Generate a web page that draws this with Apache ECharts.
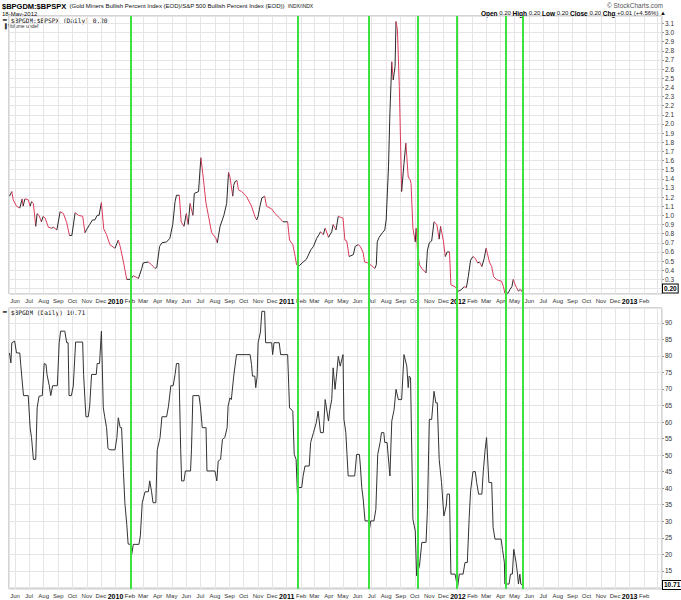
<!DOCTYPE html>
<html><head><meta charset="utf-8">
<script src="https://cdn.jsdelivr.net/npm/echarts@6/dist/echarts.min.js"></script>
<style>html,body{margin:0;padding:0;background:#fff}#c{width:681px;height:600px}</style>
</head><body><div id="c"></div>
<script>
// ---- data ----
const monthNames = ['Jan','Feb','Mar','Apr','May','Jun','Jul','Aug','Sep','Oct','Nov','Dec'];

const ratioDates = ['2009-05-20','2009-05-25','2009-05-28','2009-06-04','2009-06-11','2009-06-16','2009-06-18','2009-06-22','2009-06-29','2009-07-03','2009-07-06','2009-07-10','2009-07-15','2009-07-18','2009-07-22','2009-07-27','2009-07-31','2009-08-04','2009-08-11','2009-08-18','2009-08-22','2009-08-29','2009-09-05','2009-09-12','2009-09-19','2009-09-25','2009-09-30','2009-10-07','2009-10-14','2009-10-23','2009-10-28','2009-11-01','2009-11-07','2009-11-13','2009-11-18','2009-11-23','2009-11-27','2009-12-02','2009-12-07','2009-12-13','2009-12-20','2009-12-31','2010-01-07','2010-01-11','2010-01-18','2010-01-25','2010-02-02','2010-02-08','2010-02-19','2010-02-26','2010-03-01','2010-03-12','2010-03-19','2010-03-26','2010-03-30','2010-04-05','2010-04-10','2010-04-20','2010-04-27','2010-05-03','2010-05-08','2010-05-11','2010-05-17','2010-05-21','2010-05-27','2010-06-01','2010-06-05','2010-06-09','2010-06-15','2010-06-18','2010-06-27','2010-07-02','2010-07-06','2010-07-13','2010-07-18','2010-07-25','2010-08-03','2010-08-06','2010-08-12','2010-08-20','2010-08-26','2010-08-30','2010-09-02','2010-09-08','2010-09-10','2010-09-13','2010-09-17','2010-09-20','2010-09-27','2010-10-07','2010-10-18','2010-10-25','2010-10-29','2010-11-01','2010-11-05','2010-11-09','2010-11-15','2010-11-19','2010-11-30','2010-12-07','2010-12-17','2010-12-24','2011-01-03','2011-01-07','2011-01-14','2011-01-19','2011-01-22','2011-01-28','2011-02-05','2011-02-12','2011-02-21','2011-02-27','2011-03-06','2011-03-11','2011-03-14','2011-03-20','2011-03-24','2011-03-27','2011-03-31','2011-04-07','2011-04-10','2011-04-16','2011-04-21','2011-04-25','2011-05-01','2011-05-05','2011-05-09','2011-05-14','2011-05-23','2011-05-27','2011-06-02','2011-06-07','2011-06-13','2011-06-16','2011-06-23','2011-07-01','2011-07-08','2011-07-11','2011-07-13','2011-07-17','2011-07-24','2011-07-29','2011-08-01','2011-08-06','2011-08-09','2011-08-13','2011-08-16','2011-08-20','2011-08-22','2011-08-25','2011-08-29','2011-09-03','2011-09-08','2011-09-12','2011-09-17','2011-09-21','2011-09-23','2011-09-27','2011-10-02','2011-10-04','2011-10-07','2011-10-11','2011-10-16','2011-10-25','2011-10-28','2011-11-01','2011-11-06','2011-11-11','2011-11-17','2011-11-22','2011-11-25','2011-12-01','2011-12-05','2011-12-09','2011-12-14','2011-12-17','2011-12-26','2012-01-02','2012-01-09','2012-01-14','2012-01-19','2012-01-23','2012-01-28','2012-02-02','2012-02-07','2012-02-12','2012-02-16','2012-02-21','2012-02-26','2012-03-01','2012-03-04','2012-03-08','2012-03-13','2012-03-17','2012-03-23','2012-03-27','2012-04-03','2012-04-07','2012-04-10','2012-04-17','2012-04-21','2012-04-25','2012-04-28','2012-05-02','2012-05-05','2012-05-09','2012-05-12','2012-05-16','2012-05-18'];
const ratioValues = [1.21,1.26,1.17,1.10,1.08,1.18,1.10,1.18,1.17,1.10,1.15,1.13,0.88,1.02,1.00,0.93,0.99,0.97,0.87,0.86,0.87,0.84,1.04,1.02,0.92,0.78,0.78,1.03,1.00,0.99,0.81,0.85,0.90,0.95,0.95,1.00,1.00,1.14,0.85,0.79,0.68,0.64,0.73,0.66,0.49,0.30,0.30,0.34,0.31,0.42,0.48,0.49,0.46,0.42,0.43,0.66,0.70,0.71,0.75,0.90,1.15,1.22,1.22,0.93,0.88,1.02,0.90,1.13,1.00,1.24,1.26,1.63,1.46,1.13,1.00,0.81,0.75,0.70,0.88,1.00,1.13,1.47,1.42,1.21,1.33,1.37,1.38,1.28,1.26,1.21,1.10,0.99,0.95,0.99,1.10,1.19,1.21,1.10,1.07,1.02,0.97,0.93,0.93,0.73,0.68,0.55,0.46,0.45,0.49,0.52,0.62,0.66,0.75,0.79,0.82,0.79,0.86,0.82,0.76,0.82,0.90,0.84,0.99,0.98,0.97,0.73,0.72,0.55,0.57,0.66,0.68,0.66,0.59,0.49,0.48,0.45,0.42,0.46,0.71,0.76,0.81,0.84,0.95,1.53,2.12,2.68,2.48,2.63,3.12,3.03,2.41,1.26,1.57,1.79,1.42,1.39,1.35,0.86,0.71,0.86,0.60,0.46,0.42,0.37,0.62,0.70,0.72,0.93,0.90,0.74,0.88,0.72,0.55,0.60,0.60,0.24,0.22,0.17,0.19,0.22,0.21,0.33,0.51,0.55,0.53,0.48,0.49,0.44,0.53,0.64,0.58,0.49,0.44,0.33,0.30,0.29,0.28,0.22,0.15,0.15,0.19,0.22,0.30,0.24,0.21,0.17,0.19,0.17,0.20];

const gdmDates = ['2009-05-20','2009-05-23','2009-05-25','2009-05-31','2009-06-04','2009-06-11','2009-06-13','2009-06-17','2009-06-19','2009-06-29','2009-07-03','2009-07-06','2009-07-10','2009-07-15','2009-07-18','2009-07-22','2009-07-29','2009-08-02','2009-08-06','2009-08-08','2009-08-13','2009-08-16','2009-08-20','2009-08-30','2009-09-03','2009-09-06','2009-09-15','2009-09-19','2009-09-22','2009-09-24','2009-09-29','2009-10-03','2009-10-08','2009-10-23','2009-10-25','2009-10-30','2009-11-04','2009-11-07','2009-11-11','2009-11-21','2009-11-23','2009-11-28','2009-12-02','2009-12-06','2009-12-09','2009-12-13','2009-12-16','2009-12-20','2009-12-31','2010-01-04','2010-01-07','2010-01-11','2010-01-14','2010-01-18','2010-01-21','2010-01-25','2010-01-28','2010-02-02','2010-02-04','2010-02-08','2010-02-20','2010-02-23','2010-02-27','2010-03-05','2010-03-12','2010-03-15','2010-03-19','2010-03-22','2010-03-28','2010-03-31','2010-04-06','2010-04-10','2010-04-20','2010-04-24','2010-04-29','2010-05-04','2010-05-08','2010-05-11','2010-05-16','2010-05-20','2010-05-22','2010-05-27','2010-05-30','2010-06-10','2010-06-12','2010-06-15','2010-06-28','2010-07-01','2010-07-05','2010-07-13','2010-07-15','2010-08-01','2010-08-05','2010-08-08','2010-08-13','2010-08-17','2010-08-22','2010-08-27','2010-08-29','2010-09-02','2010-09-05','2010-09-10','2010-09-16','2010-10-15','2010-10-18','2010-10-20','2010-10-25','2010-10-27','2010-10-30','2010-11-01','2010-11-06','2010-11-09','2010-11-15','2010-11-17','2010-11-30','2010-12-02','2010-12-05','2010-12-16','2010-12-19','2011-01-03','2011-01-07','2011-01-14','2011-01-17','2011-01-21','2011-01-24','2011-01-26','2011-02-02','2011-02-05','2011-02-09','2011-02-18','2011-02-21','2011-02-27','2011-03-05','2011-03-09','2011-03-14','2011-03-20','2011-03-24','2011-03-31','2011-04-03','2011-04-07','2011-04-10','2011-04-14','2011-04-17','2011-04-21','2011-04-25','2011-05-01','2011-05-03','2011-05-07','2011-05-12','2011-05-26','2011-05-30','2011-06-05','2011-06-07','2011-06-10','2011-06-13','2011-06-17','2011-06-24','2011-06-26','2011-06-29','2011-07-06','2011-07-10','2011-07-14','2011-07-19','2011-07-22','2011-07-27','2011-07-29','2011-08-03','2011-08-09','2011-08-13','2011-08-18','2011-08-22','2011-08-27','2011-09-03','2011-09-08','2011-09-14','2011-09-17','2011-09-19','2011-09-22','2011-09-27','2011-10-02','2011-10-05','2011-10-11','2011-10-16','2011-10-25','2011-10-28','2011-11-01','2011-11-06','2011-11-11','2011-11-15','2011-11-18','2011-11-22','2011-11-27','2011-12-02','2011-12-07','2011-12-09','2011-12-14','2011-12-17','2011-12-26','2011-12-31','2012-01-04','2012-01-12','2012-01-16','2012-01-21','2012-01-25','2012-01-28','2012-02-02','2012-02-07','2012-02-10','2012-02-14','2012-02-21','2012-02-24','2012-02-28','2012-03-02','2012-03-07','2012-03-13','2012-03-16','2012-03-20','2012-04-02','2012-04-05','2012-04-09','2012-04-10','2012-04-19','2012-04-22','2012-04-26','2012-04-29','2012-05-04','2012-05-07','2012-05-09','2012-05-12','2012-05-14','2012-05-18'];
const gdmValues = [80.9,77.9,84,84.5,80.9,80.9,77.4,70.9,68,68,58.3,55.3,48.7,48.7,64.3,67.8,68,77.7,77.4,74.4,70.9,68,71,71,84,87.5,87.5,84,84,68,68,70.9,84.2,84.2,74.4,61.6,61.6,64.8,74.4,74.4,77.7,77.7,87.5,64.3,61.6,58.3,52,51.6,51.6,55.3,61.3,58.3,58.3,44.7,35.6,29.1,23.1,23,19.5,23,23,25.6,35.6,38.9,38.9,42.2,38.9,35.6,35.6,51.6,55.3,61.6,61.6,64.8,71,71,74.4,77.7,77.7,51.6,42.2,42.2,45.2,45.2,51.6,68,68,64.8,58.3,58.3,45.2,45.2,42.2,48.2,48.7,54.8,55.3,58.3,64.8,67.3,66.8,73.9,80.4,80.4,77.4,73.9,73.9,70.4,73.9,84,87.2,93.5,93.5,84,84,80.4,84,84,80.4,80.4,64.3,63.3,50.2,48.7,37.6,40.2,40.2,43.7,46.7,46.7,53.8,56.8,59.8,63.3,56.8,56.8,66.8,60.3,63.8,66.8,76.4,69.9,73.9,79.9,76.9,80.4,60.8,56.8,43.7,43.7,50.2,50.2,46.7,40.2,36.7,30.1,30.1,27.1,30.1,30.1,33.6,50.2,53.8,56.8,56.8,53.8,53.8,43.7,60.3,63.8,69.9,66.8,66.8,80.4,76.9,70.4,73.9,73.4,30.6,27.1,13.5,16.5,23.6,23.6,33.6,60.8,60.8,69.3,65.8,65.8,48.7,41.7,31.6,34.6,38.2,38.2,14,14,10,14,14,17.5,17.5,31.1,39.2,45,45,41.7,38.2,38.2,45,51.7,55.3,41.7,41.7,28.1,24.6,24.6,21.5,17.5,11,11,14,14,21.5,17.5,14,11,14,11,10.71];

const markerDates = ['2010-02-02','2011-01-24','2011-06-25','2011-10-07','2011-12-30','2012-04-12','2012-05-18'];
const ratioLast = 0.20;
const gdmLast = 10.71;
const lastMonthLabel = '2013-02-01';

// ---- chart ----
const DAY = 86400000;
const ts = s => { const p = s.split('-').map(Number); return new Date(p[0], p[1]-1, p[2]).getTime(); };
const X_MIN = ts('2009-05-19'), X_MAX = ts('2013-03-11');
const UP = '#2a2a2a', DOWN = '#dc3c5a', GRIDC = '#e6e4e6';
const FF = 'Liberation Sans';
const LAST_LABEL = ts(lastMonthLabel);

const segs = [];
for (let i = 1; i < ratioDates.length; i++) {
  segs.push([ts(ratioDates[i-1]), ratioValues[i-1], ts(ratioDates[i]), ratioValues[i], ratioValues[i] >= ratioValues[i-1] ? 1 : 0]);
}
const gdmData = gdmDates.map((d, i) => [ts(d), gdmValues[i]]);

const mkX = (gi, show) => ({
  type: 'time', gridIndex: gi, min: X_MIN, max: X_MAX, splitNumber: 46,
  minInterval: 28 * DAY, maxInterval: 31 * DAY,
  axisLine: {show: false}, axisTick: {show: false},
  axisLabel: {
    show: show, margin: 4, showMinLabel: false, showMaxLabel: false, hideOverlap: false,
    fontSize: 6, fontFamily: FF, color: '#333',
    formatter: v => {
      if (v > LAST_LABEL + 5 * DAY) return '';
      const d = new Date(v);
      return d.getMonth() === 0 ? '{y|' + d.getFullYear() + '}' : '{m|' + monthNames[d.getMonth()] + '}';
    },
    rich: {y: {fontSize: 7, fontWeight: 'bold', color: '#000', fontFamily: FF}, m: {fontSize: 6, color: '#333', fontFamily: FF}}
  },
  splitLine: {show: show, lineStyle: {color: GRIDC, width: 1}}
});

const boxLabel = (txt) => ({
  show: true, position: 'end', distance: 1, formatter: txt, fontSize: 6.5, fontWeight: 'bold', fontFamily: FF,
  color: '#000', backgroundColor: '#fff', borderColor: '#000', borderWidth: 1, padding: [1, 1, 0, 1], opacity: 1
});
const boxLine = {color: 'rgba(0,0,0,0)', width: 0, opacity: 1};

const chart = echarts.init(document.getElementById('c'), null, {renderer: 'svg'});
chart.setOption({
  animation: false,
  backgroundColor: '#fff',
  grid: [
    {left: 9, right: 19, top: 16, height: 278, show: true, borderColor: '#aaaaaa', borderWidth: 1},
    {left: 9, right: 19, top: 308, height: 281, show: true, borderColor: '#aaaaaa', borderWidth: 1},
    {left: 9, right: 19, top: 16, height: 573, show: false}
  ],
  xAxis: [mkX(0, true), mkX(1, true), Object.assign(mkX(2, false), {show: false})],
  yAxis: [
    {type: 'value', gridIndex: 0, position: 'right', min: 0.14, max: 3.18, splitNumber: 30,
     axisLine: {show: false}, axisTick: {show: true, length: 2, lineStyle: {color: '#999'}},
     axisLabel: {fontSize: 6.5, fontFamily: FF, color: '#333', margin: 3, showMinLabel: false, showMaxLabel: false,
       formatter: v => (Math.abs(v - ratioLast) < 0.05 ? '' : v.toFixed(1))},
     splitLine: {lineStyle: {color: GRIDC}}},
    {type: 'value', gridIndex: 1, position: 'right', min: 9.5, max: 94.5, splitNumber: 17,
     axisLine: {show: false}, axisTick: {show: true, length: 2, lineStyle: {color: '#999'}},
     axisLabel: {fontSize: 6.5, fontFamily: FF, color: '#333', margin: 3, showMinLabel: false, showMaxLabel: false,
       formatter: v => (Math.abs(v - gdmLast) < 2.5 ? '' : String(v))},
     splitLine: {lineStyle: {color: GRIDC}}},
    {type: 'value', gridIndex: 2, min: 0, max: 1, show: false}
  ],
  series: [
    {
      type: 'custom', xAxisIndex: 0, yAxisIndex: 0, data: segs,
      encode: {x: [0, 2], y: [1, 3]},
      renderItem: (params, api) => {
        const p0 = api.coord([api.value(0), api.value(1)]);
        const p1 = api.coord([api.value(2), api.value(3)]);
        return {type: 'line', shape: {x1: p0[0], y1: p0[1], x2: p1[0], y2: p1[1]},
                style: {stroke: api.value(4) > 0 ? UP : DOWN, lineWidth: 1}};
      },
      markLine: {silent: true, symbol: 'none', lineStyle: boxLine, label: boxLabel(ratioLast.toFixed(2)), data: [{yAxis: ratioLast}]}
    },
    {
      type: 'line', xAxisIndex: 1, yAxisIndex: 1, data: gdmData, showSymbol: false,
      lineStyle: {color: '#333', width: 1}, itemStyle: {color: '#333'},
      markLine: {silent: true, symbol: 'none', lineStyle: boxLine, label: boxLabel(gdmLast.toFixed(2)), data: [{yAxis: gdmLast}]}
    },
    {
      type: 'line', xAxisIndex: 2, yAxisIndex: 2, data: [], z: 10,
      markLine: {silent: true, symbol: 'none', label: {show: false},
        lineStyle: {color: '#3ee23e', width: 2, type: 'solid'},
        data: markerDates.map(d => ({xAxis: ts(d)}))}
    }
  ],
  graphic: [
    {type: 'text', left: 2, top: 0, style: {
      text: '{b|$BPGDM:$BPSPX} {s|(Gold Miners Bullish Percent Index (EOD)/S&P 500 Bullish Percent Index (EOD))} {t|INDX/INDX}',
      rich: {b: {fontSize: 7.5, fontWeight: 'bold', fontFamily: FF, fill: '#000'},
             s: {fontSize: 6, fontFamily: FF, fill: '#111'},
             t: {fontSize: 5, fontFamily: FF, fill: '#111'}}}},
    {type: 'text', left: 2, top: 10.5, style: {text: '18-May-2012', fontSize: 6, fontFamily: FF, fill: '#111'}},
    {type: 'text', right: 18, top: 2, style: {text: '© StockCharts.com', fontSize: 6.5, fontFamily: FF, fill: '#555'}},
    {type: 'text', right: 15, top: 9.5, style: {
      text: '{b|Open} 0.20 {b|High} 0.20 {b|Low} 0.20 {b|Close} 0.20 {b|Chg} +0.01 (+4.56%) ▲',
      fontSize: 6, fontFamily: FF, fill: '#111',
      rich: {b: {fontSize: 6.5, fontWeight: 'bold', fontFamily: FF, fill: '#000'}}}},
    {type: 'text', left: 3, top: 17, style: {
      text: '{k|━} $BPGDM:$BPSPX (Daily) 0.20', fontSize: 6.2, fontFamily: 'DejaVu Sans Mono', fill: '#111',
      rich: {k: {fontSize: 6, fontFamily: FF, fill: '#000', fontWeight: 'bold'}}}},
    {type: 'text', left: 3, top: 23, style: {text: '▐ Volume undef', fontSize: 5, fontFamily: FF, fill: '#333'}},
    {type: 'text', left: 3, top: 309, style: {
      text: '{k|━} $BPGDM (Daily) 10.71', fontSize: 6.2, fontFamily: 'DejaVu Sans Mono', fill: '#111',
      rich: {k: {fontSize: 6, fontFamily: FF, fill: '#000', fontWeight: 'bold'}}}}
  ]
});
</script>
</body></html>
